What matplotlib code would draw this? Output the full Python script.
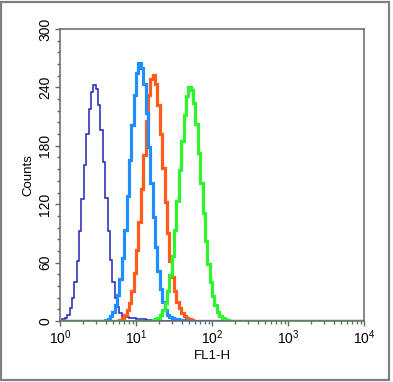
import numpy as np
import matplotlib
matplotlib.use("Agg")
import matplotlib.pyplot as plt
from matplotlib.patches import Rectangle
from matplotlib.ticker import LogLocator, MultipleLocator

plt.rcParams["font.family"] = ["Liberation Sans", "DejaVu Sans"]
plt.rcParams["mathtext.default"] = "regular"

# histogram channels: 32 per decade over 10^0 .. 10^4
n_bins = 128
per_decade = 32

# each series: first channel index and counts from there on
dark_blue_start = 1
dark_blue_counts = [2, 3, 6, 13, 24, 40, 62, 92, 125, 160, 192, 218, 235, 242,
                    238, 222, 196, 163, 126, 92, 63, 40, 24, 14, 8, 5, 4, 4,
                    3, 3, 3, 2, 2, 2, 2, 1, 1, 1, 1, 1]

light_blue_start = 19
light_blue_counts = [1, 2, 5, 9, 16, 27, 43, 65, 94, 128, 165, 201, 232, 255,
                     265, 260, 243, 214, 179, 142, 107, 76, 51, 33, 20, 11, 6,
                     4, 3, 2, 2, 1, 1, 1]

orange_start = 25
orange_counts = [1, 3, 6, 11, 19, 31, 49, 73, 102, 136, 171, 205, 232, 249,
                 253, 243, 222, 192, 157, 122, 90, 62, 45, 31, 20, 13, 8, 5,
                 3, 2, 1]

green_start = 39
green_counts = [1, 2, 3, 6, 11, 19, 31, 47, 67, 93, 123, 155, 185, 212, 231,
                240, 237, 224, 202, 173, 142, 111, 82, 59, 40, 26, 16, 9, 5,
                3, 2, 1]

series = [
    (dark_blue_start, dark_blue_counts, "#2323b4", 1.1),
    (orange_start, orange_counts, "#ff5b1c", 2.3),
    (light_blue_start, light_blue_counts, "#1f8fff", 2.3),
    (green_start, green_counts, "#2ff52f", 2.3),
]

y_ticks = [0, 60, 120, 180, 240, 300]


def full_hist(start, counts):
    h = np.zeros(n_bins)
    h[start:start + len(counts)] = counts
    return h


edges = 10 ** (np.arange(n_bins + 1) / per_decade)

fig = plt.figure(figsize=(3.93, 3.82), dpi=100)
ax = fig.add_axes([0.1527, 0.1597, 0.7735, 0.7644])

for start, counts, color, lw in series:
    ax.stairs(full_hist(start, counts), edges, color=color, linewidth=lw,
              baseline=None)

ax.set_xscale("log")
ax.set_xlim(1, 1e4)
ax.set_ylim(0, 300)

ax.xaxis.set_major_locator(LogLocator(base=10, numticks=10))
ax.xaxis.set_minor_locator(LogLocator(base=10, subs=np.arange(2, 10), numticks=50))
ax.set_yticks(y_ticks)
ax.yaxis.set_minor_locator(MultipleLocator(12))

gray = "#666666"
for s in ax.spines.values():
    s.set_color(gray)
    s.set_linewidth(1.1)

ax.tick_params(axis="both", which="major", direction="out", length=3.5,
               width=1.0, color=gray, labelsize=10, pad=2)
ax.tick_params(axis="both", which="minor", direction="out", length=2,
               width=1.0, color=gray)
for lab in ax.get_yticklabels():
    lab.set_rotation(90)
    lab.set_va("center")

ax.set_xlabel("FL1-H", fontsize=9.5, labelpad=2)
ax.set_ylabel("Counts", fontsize=9.5, labelpad=3)

# outer frame around the whole picture
fig.patches.append(Rectangle((0.003, 0.004), 0.988, 0.992, transform=fig.transFigure,
                             fill=False, edgecolor="#808080", linewidth=1.6))

fig.savefig("out.png", dpi=100)
